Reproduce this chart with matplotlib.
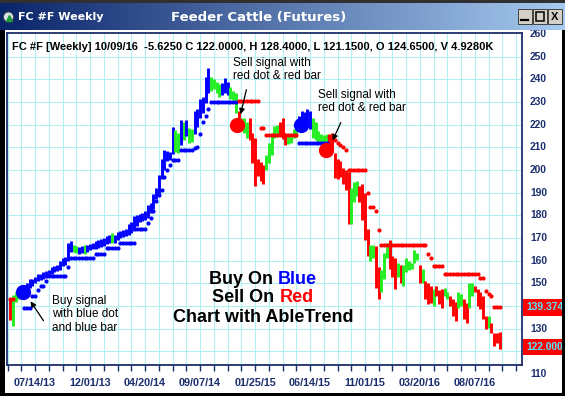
import matplotlib
matplotlib.use('Agg')
import matplotlib.pyplot as plt
import numpy as np
from matplotlib.patches import Rectangle, Circle

plt.rcParams['font.family'] = ['Liberation Sans', 'DejaVu Sans']

# ---- data (week 0 = 07/14/13) ----
weeks = list(range(-9, 170))

highs = [
    143.5, 145, 146, 146.5, 147, 148, 150, 152, 152, 153,
    154, 154, 155, 155.5, 156, 157, 157.5, 158, 160, 161,
    161.5, 168, 168.5, 167, 166.5, 166, 166.5, 167, 167, 167.5,
    168, 168.5, 169, 169.5, 170, 171, 171.5, 172, 171.5, 172.5,
    173, 173.5, 174, 176, 177, 179.5, 180, 180.5, 181, 182,
    184.5, 185.5, 189.5, 192, 198, 205, 209, 208.5, 208, 219,
    217.5, 216.5, 222, 221, 222, 218.5, 218, 226, 227, 231.5,
    232, 241, 245, 241, 240, 239, 238, 238.5, 240.5, 239,
    236.5, 235, 234, 226, 223, 223, 221, 223, 216.5, 214,
    205, 203.5, 202, 206.5, 212, 216.5, 219.5, 220, 221, 223,
    216.5, 216, 216.5, 218, 218.5, 224, 226, 225.5, 227, 226,
    223, 221, 217, 216, 215.5, 216, 216, 216.5, 207.5, 205,
    204, 201, 200, 199, 192, 194.5, 195, 193, 194, 190,
    174, 167, 167, 166.5, 157, 156, 163.5, 168, 169, 162,
    161, 159, 158, 158, 161, 160, 159, 164.5, 163.5, 158,
    156.5, 151, 150.3, 149, 147.6, 149, 147, 147.6, 148, 146,
    144.5, 143, 142, 146, 145.4, 143, 141.4, 150, 150.3, 149,
    147.6, 146, 144.5, 135.6, 135.6, 132.6, 128, 128, 128.4,
]
lows = [
    134, 131, 142, 143, 143.5, 144, 146, 148, 149, 150,
    151, 151.5, 152, 152.5, 153.5, 154, 155, 155.5, 156, 157.5,
    158, 160, 164, 164, 163.5, 163, 163.5, 163, 164, 164.5,
    165, 165, 165.5, 166, 166.5, 167.5, 168, 168, 168, 169,
    170, 170.5, 171, 171.5, 172, 173, 175.5, 177, 177.5, 178,
    179, 181, 183, 187, 189, 196, 200, 204, 204.5, 207,
    208, 207.5, 211, 213, 215, 212, 212.5, 216, 219, 223,
    225, 229.5, 234, 235, 235.5, 234, 232, 233, 234, 233,
    231.5, 231, 225, 217.5, 218, 216.5, 214, 213, 203, 193,
    197.5, 195, 194, 200, 203, 206.5, 214, 214.5, 215, 213.5,
    211, 211.5, 212, 214, 214.5, 218, 218, 219, 219, 218,
    214, 213, 212, 212, 211, 211.5, 209, 208.5, 196.5, 196,
    197, 194, 191, 176, 176, 186, 188.5, 186, 178, 169,
    162, 160, 161, 148, 143, 146, 152, 161, 156.5, 153,
    147.5, 153, 150, 149, 155, 156, 156.5, 159, 160.5, 150,
    150, 143, 141, 141.4, 140, 144.5, 141, 139, 144.5, 143,
    140, 135.7, 133.5, 139, 140, 134.4, 132.6, 139, 144.5, 146,
    140, 138.8, 134.4, 130, 130.4, 128, 122.4, 123.7, 121.15,
]
bar_colors = ("rgggbbbbbb" "bbbbbbbbbb" "bbbggbbgbb" "bbbbbbbgbb" "bbbbbbbbbb"
              "bbbbbbbbbb" "ggbgbggbbb" "bbbggggbbb" "gggrgggrrr" "rrrgggggrr"
              "rggggbbbbb" "ggggggrrrr" "rrrrgggrrr" "rggrrgggrr" "rgrggggggr"
              "grrrgrrrgg" "rrrggrrggr" "rrrrgrrrr")

stops = [
    143.3, 143.3, None, None, None, 139, 139, 139, 144.5, 144.5,
    147, 149, 149, 151, 153.4, 153.4, 153.4, 153.4, 153.4, 153.4,
    153.4, 157, 161, 161, 161, 161, 161, 161, 161, 161,
    161, 163, 163, 163, 163, 165.8, 165.8, 165.8, 165.8, 165.8,
    168, 168, 168, 168, 168, 168, 174, 174, 174, 174,
    176.5, 179, 182, 186.5, 189, 191, 196.7, 200, 202, 204.2,
    204.2, 204.2, 208.7, 208.7, 208.7, 208.7, 208.7, 209.5, 210, 216,
    221, 224, 227, 230, 230, 230, 230, 230, 230, 230,
    230, 230, 230, 230.5, 230.5, 230.5, 230.5, 230.5, 230.5, 230.5,
    230.5, 218.4, 218.4, 215.3, 215.3, 215.3, 215.3, 215.3, 215.3, 215.3,
    215.3, 215.3, 215.3, 215.3, 215.3, 211.8, 211.8, 211.8, 211.8, 211.8,
    211.8, 211.8, 211.8, 211.8, 211.8, 211.8, 214.4, 214, 213, 212,
    211, 210, 208.7, 200, 200, 200, 200, 200, 200, 200,
    189.7, 183.5, 183.5, 181.7, 173.7, 167, 167, 167, 167, 167,
    167, 167, 167, 167, 167, 167, 167, 167, 167, 167,
    167, 167, 163, 161.3, 157.8, 157.8, 157.8, 157.8, 154.3, 154.3,
    154.3, 154.3, 154.3, 154.3, 154.3, 154.3, 154.3, 154.3, 154.3, 154.3,
    154.3, 152.5, 152.5, 146.7, 145.5, 144.5, 139.4, 139.4, 139.374,
]
stop_colors = ("rr---bbbbb" "bbbbbbbbbb" "bbbbbbbbbb" "bbbbbbbbbb" "bbbbbbbbbb"
               "bbbbbbbbbb" "bbbbbbbbbb" "bbbbbbbbbb" "bbbrrrrrrr" "rrrrrrrrrr"
               "rrrrrbbbbb" "bbbbbbrrrr" "rrrrrrrrrr" "rrrrrrrrrr" "rrrrrrrrrr"
               "rrrrrrrrrr" "rrrrrrrrrr" "rrrrrrrrr")

signal_weeks = [-4.4, 73.5, 96.7, 105.8]
signal_prices = [146, 220, 220, 209]
signal_colors = ['b', 'r', 'b', 'r']

tick_weeks = [0, 20, 40, 60, 80, 100, 120, 140, 160]
tick_labels = ['07/14/13', '12/01/13', '04/20/14', '09/07/14', '01/25/15',
               '06/14/15', '11/01/15', '03/20/16', '08/07/16']
# 120 and 140 sit under the red value tags in the original
price_labels = [110, 130, 150, 160, 170, 180, 190, 200, 210, 220, 230, 240, 250, 260]
last_stop = 139.374
last_close = 122.0

assert len(highs) == len(lows) == len(bar_colors) == len(weeks)
assert len(stops) == len(stop_colors) == len(weeks)

pal = {'b': '#0000ff', 'g': '#22ee22', 'r': '#ff0000'}
navy = '#1c2f6e'
W, H = 565, 396

fig = plt.figure(figsize=(5.65, 3.96), dpi=100)
fig.patch.set_facecolor('white')

ax = fig.add_axes([7 / W, 1 - 365 / H, 515 / W, 332 / H])
ax.set_xlim(-10.2, 177.1)
ax.set_ylim(114, 260.4)

# grid + ticks
ax.set_xticks(range(-10, 176, 5))
ax.set_xticklabels([tick_labels[tick_weeks.index(t)] if t in tick_weeks else ''
                    for t in range(-10, 176, 5)])
ax.set_yticks(range(120, 260, 10))
ax.tick_params(axis='y', length=0, labelleft=False)
ax.tick_params(axis='x', direction='out', length=4, width=1, color=navy,
               labelsize=7.8, labelcolor=navy, pad=5)
for lbl in ax.get_xticklabels():
    lbl.set_fontweight('bold')
ax.grid(True, color='#b4f0f0', linewidth=0.8)
ax.set_axisbelow(True)
for sp in ax.spines.values():
    sp.set_color(navy)
    sp.set_linewidth(1.3)

# price bars
ax.vlines(weeks, lows, highs, colors=[pal[c] for c in bar_colors],
          linewidth=2.1, zorder=3)

# trailing stop dots
for key in ['b', 'r']:
    xs = [w for w, s, c in zip(weeks, stops, stop_colors) if c == key and s is not None]
    ys = [s for s, c in zip(stops, stop_colors) if c == key and s is not None]
    ax.plot(xs, ys, 'o', ms=3.0, mew=0, color=pal[key], zorder=4)

# signal dots
for sx, sy, sc in zip(signal_weeks, signal_prices, signal_colors):
    ax.plot(sx, sy, 'o', ms=11, mew=0, color=pal[sc], zorder=5)

# right price labels
ytr = ax.get_yaxis_transform()
for v in price_labels:
    ax.text((530 - 7) / 515, v, str(v), transform=ytr, ha='left', va='center',
            fontsize=7.4, fontweight='bold', color=navy, clip_on=False)
for v in [last_stop, last_close]:
    ax.add_patch(Rectangle((1.002, v - 3.6), 0.08, 7.2, transform=ytr,
                           facecolor='#ff0000', edgecolor='none',
                           clip_on=False, zorder=6))
    ax.text((526 - 7) / 515, v, '%.3f' % v, transform=ytr, ha='left', va='center',
            fontsize=7.4, fontweight='bold', color='#55e6ff', clip_on=False, zorder=7)

# ---- decoration layer in pixel coords ----
deco = fig.add_axes([0, 0, 1, 1])
deco.set_xlim(0, W)
deco.set_ylim(H, 0)
deco.axis('off')
deco.set_zorder(10)

deco.text(12, 46.5, 'FC #F [Weekly] 10/09/16  -5.6250 C 122.0000, H 128.4000, '
          'L 121.1500, O 124.6500, V 4.9280K', fontsize=8.0, fontweight='bold',
          ha='left', va='center', color='black')

# annotations
ann = dict(fontsize=8.5, ha='left', va='top', linespacing=1.15, color='black')
deco.text(233, 57, 'Sell signal with\nred dot & red bar', **ann)
deco.text(318, 89, 'Sell signal with\nred dot & red bar', **ann)
deco.text(52, 295, 'Buy signal\nwith blue dot\nand blue bar', **ann)
arr = dict(arrowstyle='-|>', color='black', lw=0.9, mutation_scale=8)
deco.annotate('', xy=(240, 117), xytext=(247, 87), arrowprops=arr)
deco.annotate('', xy=(331.5, 143), xytext=(342, 120), arrowprops=arr)
deco.annotate('', xy=(29, 299), xytext=(45, 323), arrowprops=arr)

# big caption with coloured words
fig.canvas.draw()
big = dict(fontsize=13, fontweight='bold', va='center')
for yc, first, second, col in [(279, 'Buy On', 'Blue', '#0000ff'),
                                (298, 'Sell On', 'Red', '#ff0000')]:
    full = deco.text(263, yc, first + ' ' + second, ha='center', alpha=0, **big)
    bb = full.get_window_extent(fig.canvas.get_renderer())
    inv = deco.transData.inverted()
    x0 = inv.transform((bb.x0, bb.y0))[0]
    x1 = inv.transform((bb.x1, bb.y0))[0]
    deco.text(x0, yc, first, ha='left', color='black', **big)
    deco.text(x1, yc, second, ha='right', color=col, **big)
deco.text(263, 317, 'Chart with AbleTrend', ha='center', color='black', **big)

# title bar
grad = np.linspace(0, 1, 256)
c0 = np.array([10, 36, 106]) / 255
c1 = np.array([166, 202, 240]) / 255
img = (c0[None, :] * (1 - grad[:, None]) + c1[None, :] * grad[:, None])[None, :, :]
deco.imshow(img, aspect='auto', extent=[0, W, 30, 3], zorder=1)
deco.add_patch(Rectangle((0, 0), W, 3, facecolor='#303030', edgecolor='none', zorder=2))
deco.add_patch(Circle((8.5, 17), 5, facecolor='#d8e0e8', edgecolor='#404040', lw=0.6, zorder=3))
deco.plot(8.5, 17.5, '^', ms=4.5, color='#1a9a3a', zorder=4)
deco.text(18, 17, 'FC #F Weekly', fontsize=8, fontweight='bold', color='white',
          ha='left', va='center', family='DejaVu Sans', zorder=4)
deco.text(259, 17, 'Feeder Cattle (Futures)', fontsize=9.5, fontweight='bold',
          color='white', ha='center', va='center', family='DejaVu Sans', zorder=4)
for bx in [518, 533, 548]:
    deco.add_patch(Rectangle((bx, 9), 14, 15, facecolor='#d4d0c8',
                             edgecolor='#404040', lw=0.7, zorder=3))
deco.plot([521, 528], [20, 20], color='black', lw=1.6, zorder=4)
deco.add_patch(Rectangle((536, 12), 8, 9, facecolor='none', edgecolor='black', lw=1.1, zorder=4))
deco.text(555, 16.5, 'X', fontsize=8, fontweight='bold', ha='center', va='center', zorder=4)

# window frame
deco.add_patch(Rectangle((0, 30), 4.5, H, facecolor='black', edgecolor='none', zorder=8))
deco.add_patch(Rectangle((561.5, 30), 4, H, facecolor='black', edgecolor='none', zorder=8))
deco.add_patch(Rectangle((0, 392.5), W, 4, facecolor='black', edgecolor='none', zorder=8))

fig.savefig('out.png', dpi=100)
